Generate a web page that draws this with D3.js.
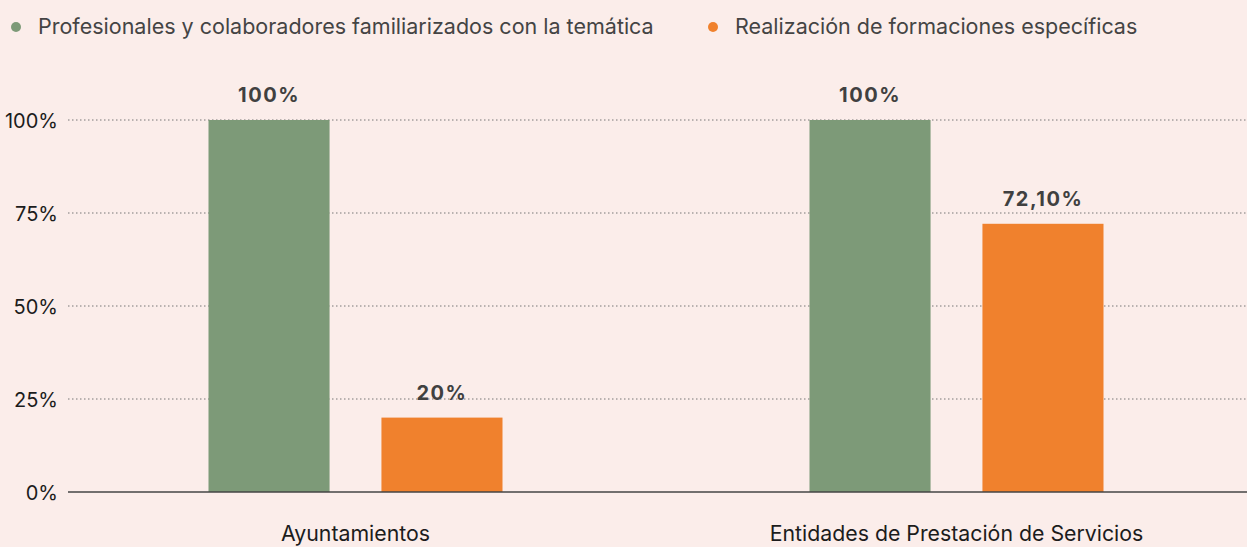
<!DOCTYPE html>
<html lang="es">
<head>
<meta charset="UTF-8">
<title>Formación</title>
<script src="https://d3js.org/d3.v7.min.js"></script>
<style>
  body { margin: 0; background: #fbedea; }
  svg { display: block; font-family: Inter, "Noto Sans", sans-serif; }
  .grid line { stroke: #777; stroke-dasharray: 1.5 2.5; }
</style>
</head>
<body>
<svg id="chart"></svg>
<script>
// Data
const categories = ["Ayuntamientos", "Entidades de Prestación de Servicios"];
const seriesNames = ["Profesionales y colaboradores familiarizados con la temática", "Realización de formaciones específicas"];
const seriesColors = ["#7d9a78", "#f0812d"];
const familiarizados = [100, 100];
const formaciones = [20, 72.1];
const valueLabels = [["100%", "100%"], ["20%", "72,10%"]];
const yTicks = [0, 25, 50, 75, 100];

const width = 1247, height = 547;
const svg = d3.select("#chart").attr("width", width).attr("height", height);

const y = d3.scaleLinear().domain([0, 100]).range([492, 120]);
const x0 = d3.scaleBand().domain(categories).range([55, 1257]);
const x1 = d3.scaleBand().domain([0, 1]).range([0, 294]).paddingInner(0.3).paddingOuter(0);

// gridlines
svg.append("g").attr("class", "grid")
  .selectAll("line").data(yTicks.filter(d => d > 0)).join("line")
  .attr("x1", 68).attr("x2", width)
  .attr("y1", d => y(d)).attr("y2", d => y(d));

// y tick labels
svg.append("g").selectAll("text").data(yTicks).join("text")
  .attr("x", 58).attr("y", d => y(d) + 3)
  .attr("text-anchor", "end").attr("dominant-baseline", "middle")
  .attr("font-size", 20).attr("fill", "#1c1c1c")
  .text(d => d + "%");

// bars
const series = [familiarizados, formaciones];
const groups = svg.append("g").selectAll("g").data(categories).join("g")
  .attr("transform", d => `translate(${x0(d) + x0.bandwidth() / 2 - 147},0)`);

groups.each(function(cat, ci) {
  const g = d3.select(this);
  series.forEach((vals, si) => {
    g.append("rect")
      .attr("x", x1(si)).attr("width", x1.bandwidth())
      .attr("y", y(vals[ci])).attr("height", y(0) - y(vals[ci]))
      .attr("fill", seriesColors[si]);
    g.append("text")
      .attr("x", x1(si) + x1.bandwidth() / 2).attr("y", y(vals[ci]) - 18)
      .attr("text-anchor", "middle")
      .attr("font-size", 20).attr("font-weight", 700).attr("fill", "#404040")
      .attr("letter-spacing", 1.5)
      .text(valueLabels[si][ci]);
  });
});

// baseline
svg.append("line")
  .attr("x1", 68).attr("x2", width).attr("y1", y(0)).attr("y2", y(0))
  .attr("stroke", "#444").attr("stroke-width", 1.5);

// category labels
svg.append("g").selectAll("text").data(categories).join("text")
  .attr("x", d => x0(d) + x0.bandwidth() / 2).attr("y", 541)
  .attr("text-anchor", "middle").attr("font-size", 21.3).attr("fill", "#1c1c1c")
  .text(d => d);

// legend
const legendX = [16, 713];
const legend = svg.append("g").selectAll("g").data(seriesNames).join("g")
  .attr("transform", (d, i) => `translate(${legendX[i]},27)`);
legend.append("circle").attr("r", 5).attr("fill", (d, i) => seriesColors[i]);
legend.append("text").attr("x", 22).attr("y", 1).attr("dominant-baseline", "middle")
  .attr("font-size", 21.5).attr("fill", "#444").text(d => d);
</script>
</body>
</html>
